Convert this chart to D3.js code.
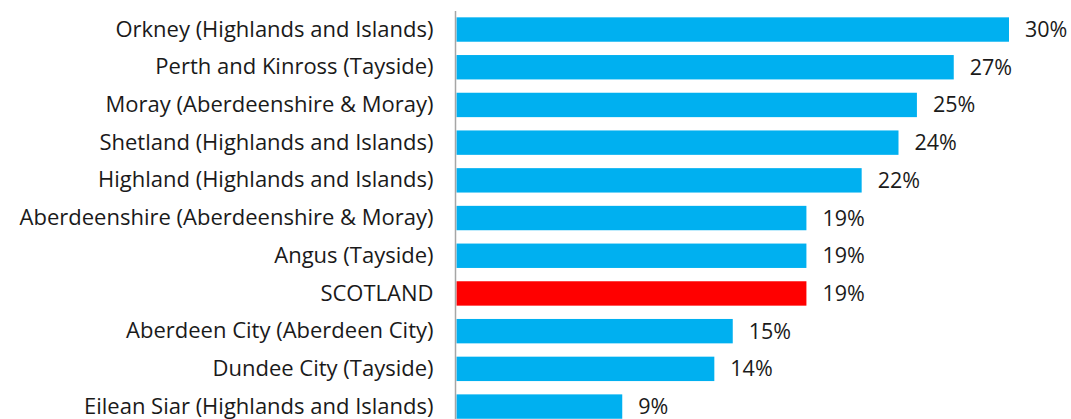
<!DOCTYPE html>
<html>
<head>
<meta charset="utf-8">
<script src="https://cdn.jsdelivr.net/npm/d3@7"></script>
<style>
    body { margin: 0; background: #fff; }
    text { font-family: "Open Sans", Lato, sans-serif; fill: #1a1a1a; }
</style>
</head>
<body>
<svg id="chart" width="1071" height="419"></svg>
<script>
var categories = [
    "Orkney (Highlands and Islands)",
    "Perth and Kinross (Tayside)",
    "Moray (Aberdeenshire & Moray)",
    "Shetland (Highlands and Islands)",
    "Highland (Highlands and Islands)",
    "Aberdeenshire (Aberdeenshire & Moray)",
    "Angus (Tayside)",
    "SCOTLAND",
    "Aberdeen City (Aberdeen City)",
    "Dundee City (Tayside)",
    "Eilean Siar (Highlands and Islands)"
];
var values = [30, 27, 25, 24, 22, 19, 19, 19, 15, 14, 9];
var highlight = ["SCOTLAND"];

var svg = d3.select("#chart"),
    width = +svg.attr("width"),
    height = +svg.attr("height");

var x0 = 456.5;
var x = d3.scaleLinear()
    .domain([0, 30])
    .range([x0, 1009]);

var y = d3.scaleBand()
    .domain(categories)
    .range([10.7, 10.7 + 37.7 * categories.length])
    .paddingInner(0.353)
    .paddingOuter(0.176);

var data = categories.map(function(c, i) {
    return {name: c, value: values[i]};
});

svg.append("g")
    .selectAll("rect")
    .data(data)
    .enter().append("rect")
    .attr("x", x(0))
    .attr("y", function(d) { return y(d.name); })
    .attr("width", function(d) { return x(d.value) - x(0); })
    .attr("height", y.bandwidth())
    .attr("fill", function(d) {
        return highlight.indexOf(d.name) !== -1 ? "#ff0000" : "#00b0f0";
    });

// value labels
svg.append("g")
    .selectAll("text")
    .data(data)
    .enter().append("text")
    .attr("x", function(d) { return x(d.value) + 16; })
    .attr("y", function(d) { return y(d.name) + y.bandwidth() / 2; })
    .attr("dy", "0.35em")
    .style("font-size", "21.5px")
    .text(function(d) { return d.value + "%"; });

// category axis
var axis = svg.append("g")
    .attr("transform", "translate(" + (x0 - 1) + ",0)")
    .call(d3.axisLeft(y).tickSize(0).tickPadding(22));
axis.select(".domain").remove();
axis.selectAll("text")
    .style("font-size", "22px")
    .style("font-family", "'Open Sans', Lato, sans-serif")
    .attr("fill", "#1a1a1a");

svg.append("line")
    .attr("x1", x0 - 1)
    .attr("x2", x0 - 1)
    .attr("y1", 11)
    .attr("y2", height)
    .attr("stroke", "#a6a6a6")
    .attr("stroke-width", 1.5);
</script>
</body>
</html>
